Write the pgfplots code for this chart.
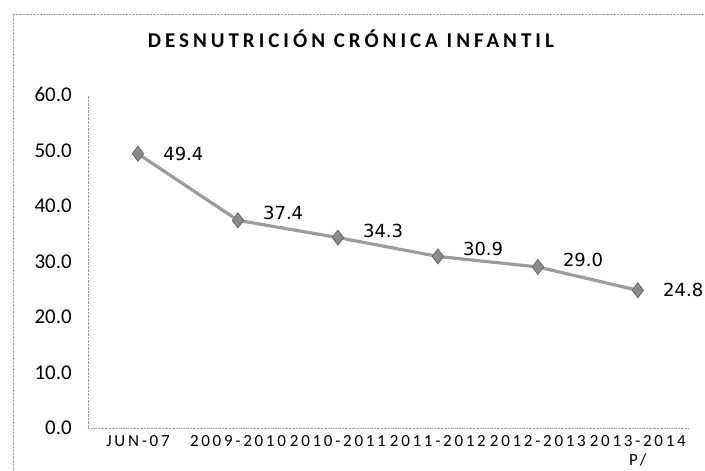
\documentclass[border=0pt]{standalone}
\usepackage{pgfplots}
\pgfplotsset{compat=1.18}
\usepackage{fontspec}
\setmainfont{Carlito}
\newfontfamily\titlefont[LetterSpace=19]{Carlito}
\newfontfamily\tickfont[LetterSpace=16]{Carlito}
\newfontfamily\dlfont{DejaVu Sans}
\definecolor{linegray}{HTML}{9C9C9C}
\definecolor{markgray}{HTML}{8C8C8C}
\begin{document}
\begin{tikzpicture}[x=1bp,y=1bp]
\fill[white] (0,0) rectangle (705,470);
\draw[gray!70, densely dotted] (13,0) -- (13,456) -- (705,456);
\node[font=\titlefont\bfseries\fontsize{21bp}{25bp}\selectfont, inner sep=0pt] at (351,431) {DESNUTRICIÓN CRÓNICA INFANTIL};
\begin{scope}[overlay]
\begin{axis}[
  at={(88bp,42bp)}, anchor=south west,
  scale only axis, width=600bp, height=333bp,
  xmin=-0.5, xmax=5.5, ymin=0, ymax=60,
  ytick={0,10,...,60},
  xtick={0,1,2,3,4,5},
  xticklabels={JUN-07,2009-2010,2010-2011,2011-2012,2012-2013,{2013-2014\\P/}},
  xticklabel style={font=\tickfont\fontsize{17bp}{19bp}\selectfont, align=center, anchor=north, inner sep=0pt, yshift=-7bp},
  yticklabel style={font=\fontsize{21bp}{24bp}\selectfont, anchor=east, inner sep=0pt, xshift=-16bp},
  /pgf/number format/assume math mode=true,
  yticklabel={\pgfmathprintnumber[fixed,fixed zerofill,precision=1]{\tick}},
  axis x line*=bottom, axis y line*=left,
  axis line style={densely dotted, gray!80, -},
  major tick length=0pt,
  clip=false,
  point meta=explicit symbolic,
]
\addplot[linegray, line width=3.2bp, mark=diamond*, mark size=7.5bp, mark options={fill=markgray, draw=gray!80!black, line width=0.8bp},
  nodes near coords,
  every node near coord/.append style={font=\dlfont\fontsize{18bp}{20bp}\selectfont, anchor=west, inner sep=0pt, xshift=25bp, yshift=0bp, text=black}]
coordinates {(0,49.4)[49.4] (1,37.4)[] (2,34.3)[] (3,30.9)[] (4,29.0)[] (5,24.8)[24.8]};
\addplot[draw=none, mark=none,
  nodes near coords,
  every node near coord/.append style={font=\dlfont\fontsize{18bp}{20bp}\selectfont, anchor=west, inner sep=0pt, xshift=25bp, yshift=7bp, text=black}]
coordinates {(1,37.4)[37.4] (2,34.3)[34.3] (3,30.9)[30.9] (4,29.0)[29.0]};
\end{axis}
\end{scope}
\end{tikzpicture}
\end{document}
